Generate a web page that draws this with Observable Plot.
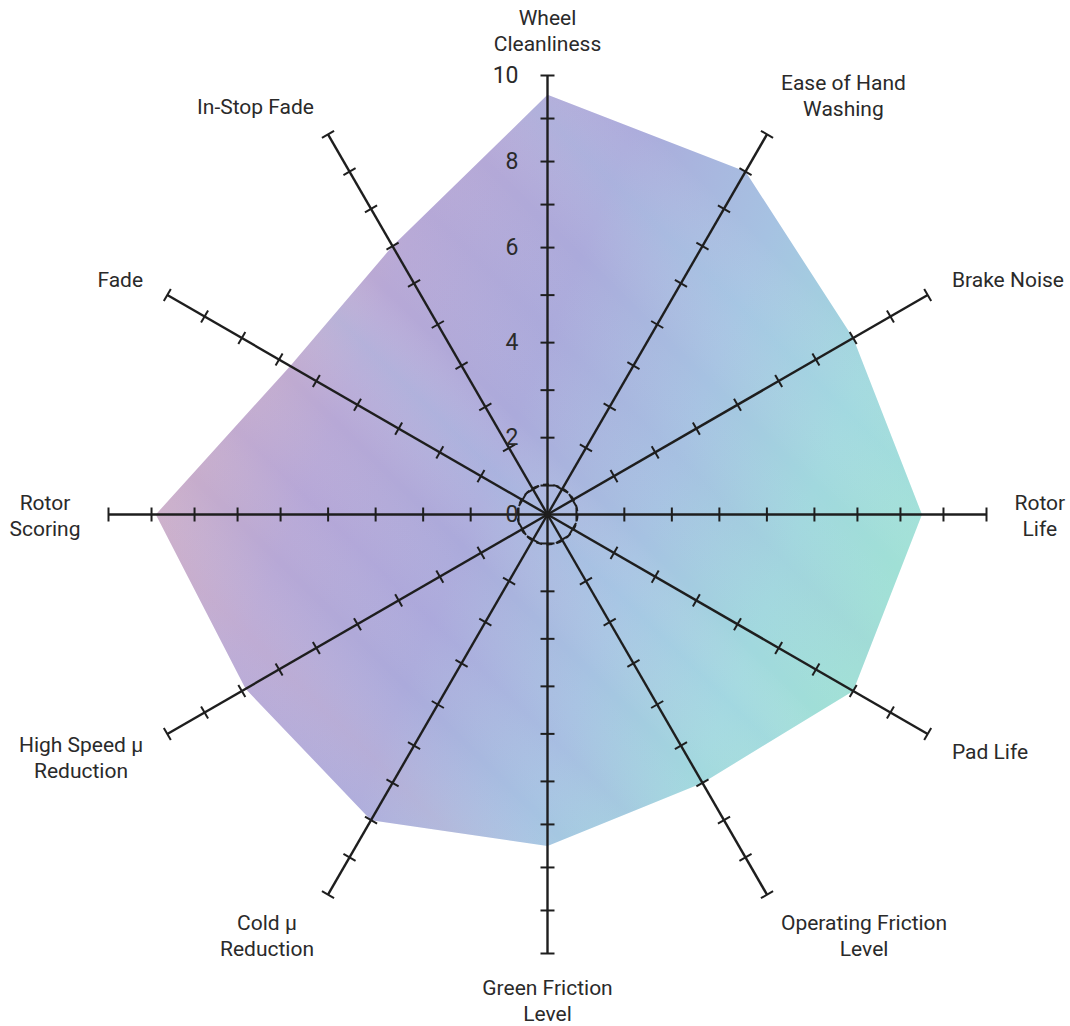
<!DOCTYPE html>
<html><head><meta charset="utf-8">
<script src="https://cdn.jsdelivr.net/npm/d3@7"></script>
<script src="https://cdn.jsdelivr.net/npm/@observablehq/plot@0.6"></script>
<style>
body{margin:0;background:#fff;}
#chart{width:1070px;height:1026px;}
</style></head><body><div id="chart"></div>
<script>
// ---- data ----
const categories = ["Wheel Cleanliness","Ease of Hand Washing","Brake Noise","Rotor Life","Pad Life","Operating Friction Level","Green Friction Level","Cold μ Reduction","High Speed μ Reduction","Rotor Scoring","Fade","In-Stop Fade"];
const labelLines = [["Wheel","Cleanliness"],["Ease of Hand","Washing"],["Brake Noise"],["Rotor","Life"],["Pad Life"],["Operating Friction","Level"],["Green Friction","Level"],["Cold μ","Reduction"],["High Speed μ","Reduction"],["Rotor","Scoring"],["Fade"],["In-Stop Fade"]];
const values = [9.55, 9.0, 8.0, 8.5, 8.0, 7.0, 7.5, 8.0, 7.9, 8.9, 6.7, 7.0];
const tickValues = [1,2,3,4,5,6,7,8,9,10];
const scaleLabels = [0,2,4,6,8,10];
const maxValue = 10;

// ---- geometry helpers ----
const RPX = 439; // pixel length of one normalized radius unit (x/y scales span [-1,1])
const radial = d3.scaleLinear().domain([0,1,2,6,10]).range([0,0.066,0.175,0.608,1]);
const n = categories.length;
const ang = i => i * 2 * Math.PI / n;
const pt = (i, r) => ({x: r * Math.sin(ang(i)), y: r * Math.cos(ang(i))});

const polygon = values.map((v, i) => ({category: categories[i], value: v, ...pt(i, radial(v))}));
const spokes = categories.map((c, i) => { const e = pt(i, radial(maxValue)); return {category: c, x1: 0, y1: 0, x2: e.x, y2: e.y}; });
const tickHalf = 7 / RPX;
const ticks = [];
categories.forEach((c, i) => tickValues.forEach(t => {
  const p = pt(i, radial(t));
  const px = Math.cos(ang(i)) * tickHalf, py = -Math.sin(ang(i)) * tickHalf;
  ticks.push({x1: p.x - px, y1: p.y - py, x2: p.x + px, y2: p.y + py});
}));

// label placement: outside the axis end, block's near edge just beyond the axis end
const FONT_SIZE = 21;
const LINE_H = 26;
const ctx = document.createElement("canvas").getContext("2d");
ctx.font = `${FONT_SIZE}px Roboto`;
const gapX = 28 / RPX, gapY = 20 / RPX;
const labels = labelLines.map((lines, i) => {
  const w = Math.max(...lines.map(s => ctx.measureText(s).width));
  const h = lines.length * LINE_H;
  let s = Math.sin(ang(i)), c = Math.cos(ang(i));
  if (Math.abs(s) < 1e-6) s = 0;
  if (Math.abs(c) < 1e-6) c = 0;
  const R = radial(maxValue);
  return {
    text: lines.join("\n"),
    x: (R + gapX) * s + Math.sign(s) * (w / 2) / RPX,
    y: (R + gapY) * c + c * (h / 2) / RPX
  };
});

function defs() {
  const ns = "http://www.w3.org/2000/svg";
  const g = document.createElementNS(ns, "defs");
  g.innerHTML = `
  <linearGradient id="radarGrad" x1="0" y1="0.15" x2="1" y2="0.55">
    <stop offset="0" stop-color="#d9b1bb"/>
    <stop offset="0.12" stop-color="#ccaec8"/>
    <stop offset="0.3" stop-color="#b7a8d6"/>
    <stop offset="0.5" stop-color="#abaadb"/>
    <stop offset="0.7" stop-color="#a6c2e2"/>
    <stop offset="0.87" stop-color="#a1d8de"/>
    <stop offset="1" stop-color="#a0e0d6"/>
  </linearGradient>
  <linearGradient id="radarStripes" x1="0" y1="1" x2="1" y2="0">
    <stop offset="0.00" stop-color="#ffffff" stop-opacity="0"/>
    <stop offset="0.08" stop-color="#b9a0e0" stop-opacity="0.16"/>
    <stop offset="0.13" stop-color="#ffffff" stop-opacity="0"/>
    <stop offset="0.20" stop-color="#e8c0c8" stop-opacity="0.16"/>
    <stop offset="0.27" stop-color="#ffffff" stop-opacity="0"/>
    <stop offset="0.33" stop-color="#b0a0e0" stop-opacity="0.12"/>
    <stop offset="0.40" stop-color="#ffffff" stop-opacity="0"/>
    <stop offset="0.47" stop-color="#a8d4ec" stop-opacity="0.2"/>
    <stop offset="0.52" stop-color="#ffffff" stop-opacity="0"/>
    <stop offset="0.60" stop-color="#a8a8dc" stop-opacity="0.08"/>
    <stop offset="0.67" stop-color="#ffffff" stop-opacity="0"/>
    <stop offset="0.74" stop-color="#a8dcec" stop-opacity="0.15"/>
    <stop offset="0.80" stop-color="#ffffff" stop-opacity="0"/>
    <stop offset="1.00" stop-color="#ffffff" stop-opacity="0"/>
  </linearGradient>`;
  return g;
}

const axisColor = "#1e1e1e";
const chart = Plot.plot({
  width: 1070,
  height: 1026,
  marginLeft: 108,
  marginRight: 84,
  marginTop: 75,
  marginBottom: 73,
  x: {domain: [-1, 1], axis: null},
  y: {domain: [-1, 1], axis: null},
  style: {fontFamily: "Roboto, 'Open Sans', sans-serif", background: "#fff", color: "#2a2a2a"},
  marks: [
    defs,
    Plot.line(polygon, {x: "x", y: "y", curve: "linear-closed", fill: "url(#radarGrad)", stroke: "none"}),
    Plot.line(polygon, {x: "x", y: "y", curve: "linear-closed", fill: "url(#radarStripes)", stroke: "none"}),
    Plot.link(spokes, {x1: "x1", y1: "y1", x2: "x2", y2: "y2", stroke: axisColor, strokeWidth: 2.4}),
    Plot.link(ticks, {x1: "x1", y1: "y1", x2: "x2", y2: "y2", stroke: axisColor, strokeWidth: 2}),
    Plot.dot([{x: 0, y: 0}], {x: "x", y: "y", r: radial(1) * RPX + 1, stroke: axisColor, strokeWidth: 2, strokeDasharray: "6,4.5", fill: "none"}),
    Plot.dot([{x: 0, y: 0}], {x: "x", y: "y", r: 3, fill: axisColor}),
    Plot.text(scaleLabels, {x: () => 0, y: d => radial(d), text: d => String(d), textAnchor: "end", lineAnchor: "middle", dx: -29, fontSize: 23, fill: "#2a2a2a"}),
    Plot.text(labels, {x: "x", y: "y", text: "text", textAnchor: "middle", lineAnchor: "middle", lineHeight: LINE_H / FONT_SIZE, fontSize: FONT_SIZE, fill: "#2a2a2a"})
  ]
});
document.getElementById("chart").appendChild(chart);
</script>
</body></html>
